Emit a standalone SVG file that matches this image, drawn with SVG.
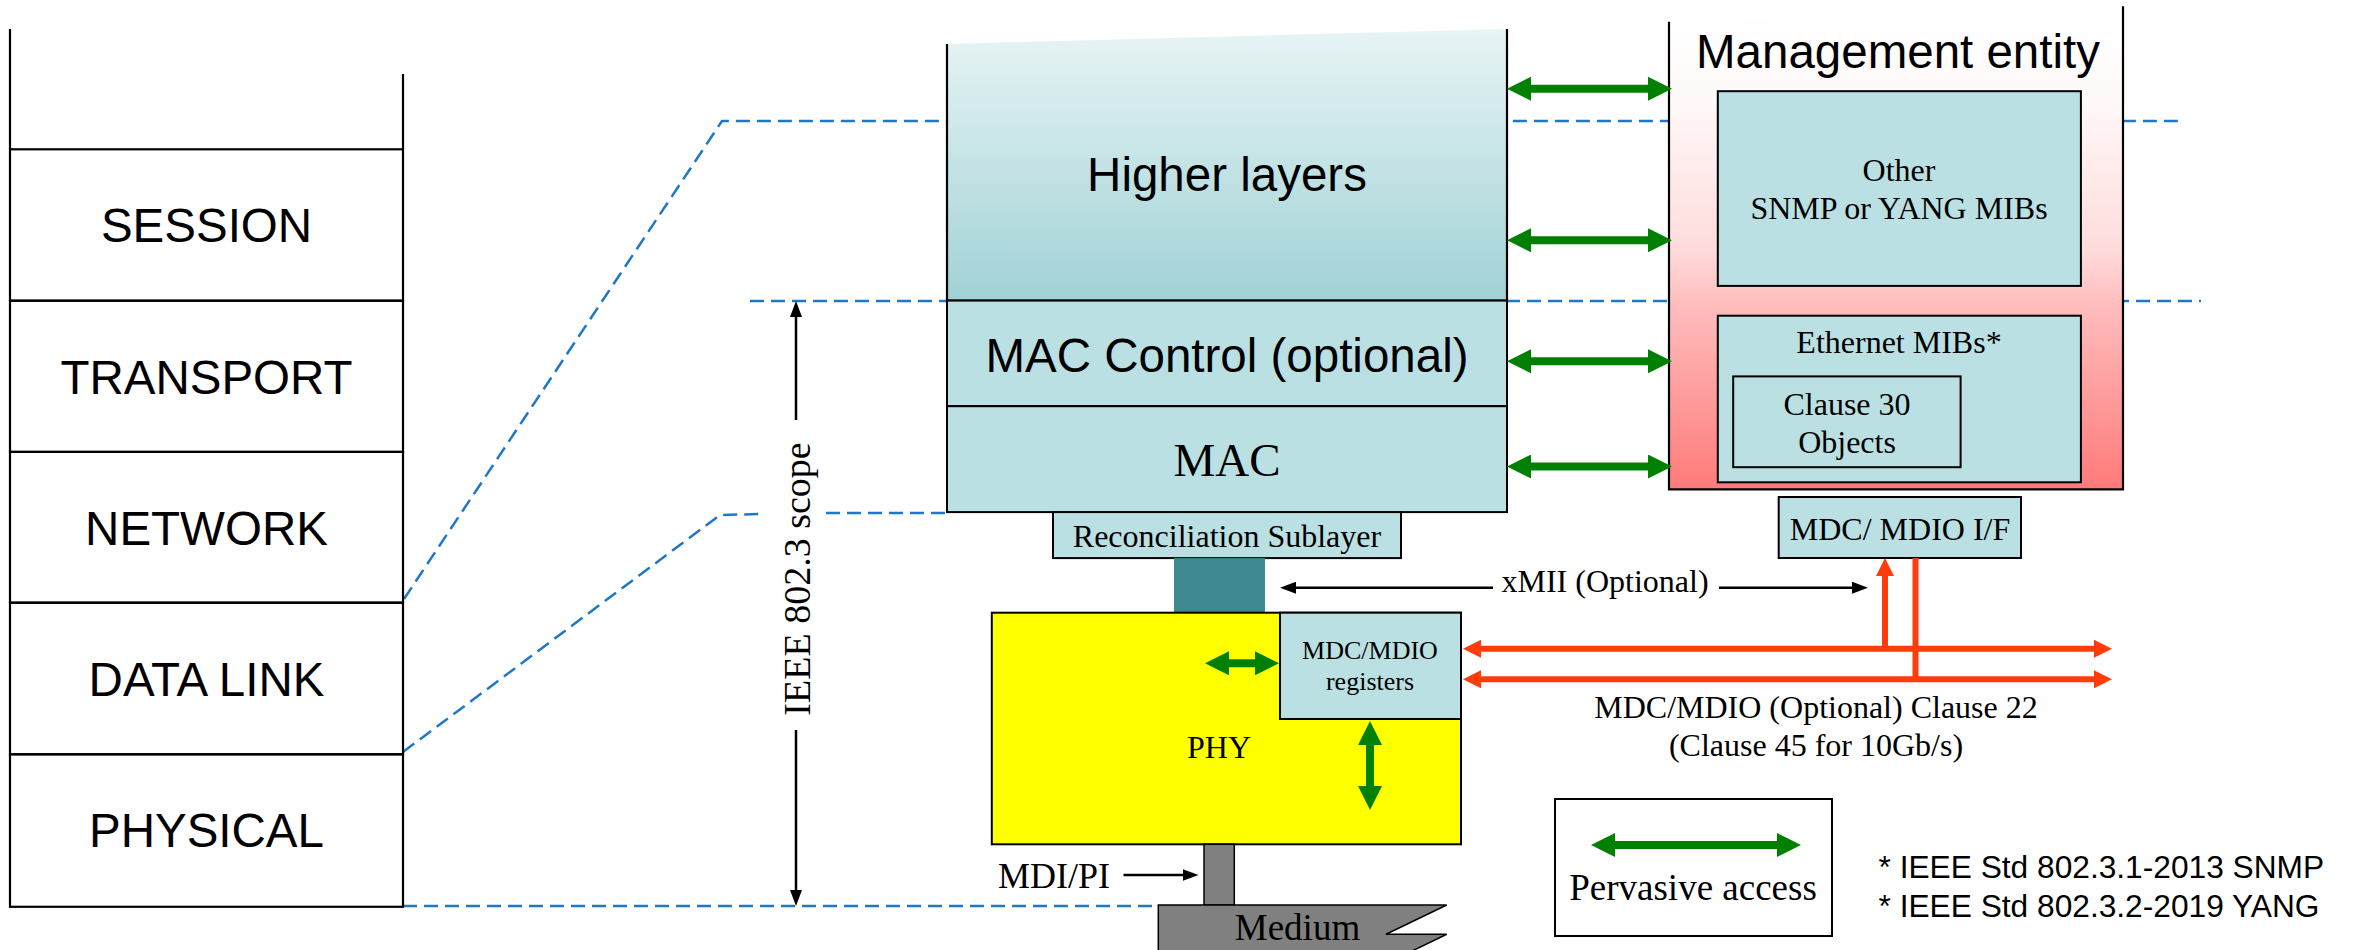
<svg xmlns="http://www.w3.org/2000/svg" width="2354" height="950" viewBox="0 0 2354 950">
<style>
.sans{font-family:"Liberation Sans",Arial,sans-serif;fill:#000}
.serif{font-family:"Liberation Serif","Times New Roman",serif;fill:#000}
.big{font-size:47.5px}
.s32{font-size:32px}
.box{fill:#bae0e3;stroke:#000;stroke-width:2}
.edge{fill:none;stroke:#000;stroke-width:2.2}
.dash{fill:none;stroke:#1f77c9;stroke-width:2.5;stroke-dasharray:14 7}
.ga{fill:none;stroke:#008000;stroke-width:8;marker-start:url(#mG);marker-end:url(#mG)}
.ra{fill:none;stroke:#ff3c0a;stroke-width:6}
.ka{fill:none;stroke:#000;stroke-width:2.5}
</style>
<defs>
<linearGradient id="gHL" gradientUnits="userSpaceOnUse" x1="0" y1="29" x2="0" y2="300">
<stop offset="0" stop-color="#e8f4f5"/><stop offset="1" stop-color="#a1d2d6"/>
</linearGradient>
<linearGradient id="gME" gradientUnits="userSpaceOnUse" x1="0" y1="6" x2="0" y2="489">
<stop offset="0" stop-color="#ffffff"/><stop offset="0.18" stop-color="#fffafa"/><stop offset="0.5" stop-color="#ffdcdc"/><stop offset="0.62" stop-color="#ffbdbd"/><stop offset="1" stop-color="#ff7a7a"/>
</linearGradient>
<marker id="mG" markerUnits="userSpaceOnUse" viewBox="0 0 24 24" markerWidth="24" markerHeight="24" refX="4" refY="12" orient="auto-start-reverse"><path d="M0,0 L24,12 L0,24 Z" fill="#008000"/></marker>
<marker id="mR" markerUnits="userSpaceOnUse" viewBox="0 0 18 18" markerWidth="18" markerHeight="18" refX="3" refY="9" orient="auto-start-reverse"><path d="M0,0 L18,9 L0,18 Z" fill="#ff3c0a"/></marker>
<marker id="mK" markerUnits="userSpaceOnUse" viewBox="0 0 16 12" markerWidth="16" markerHeight="12" refX="2" refY="6" orient="auto-start-reverse"><path d="M0,0 L16,6 L0,12 Z" fill="#000"/></marker>
</defs>
<rect width="2354" height="950" fill="#fff"/>

<g id="scope-lines">
<path class="dash" d="M404,599 L722,121 L2182,121"/>
<path class="dash" d="M750,301 L2201,301"/>
<path class="dash" d="M403,752 L720,515 L760,514"/>
<path class="dash" d="M826,513 L947,513"/>
<path class="dash" d="M403,906 L1160,906"/>
</g>

<g id="osi-stack">
<line class="edge" x1="10" y1="29" x2="10" y2="149.3"/>
<line class="edge" x1="403" y1="74" x2="403" y2="149.3"/>
<g id="layer-session"><rect class="edge" x="10" y="149.3" width="393" height="151.4"/><text class="sans big" x="206.5" y="242" text-anchor="middle">SESSION</text></g>
<g id="layer-transport"><rect class="edge" x="10" y="300.7" width="393" height="151.2"/><text class="sans big" x="206.5" y="393.5" text-anchor="middle">TRANSPORT</text></g>
<g id="layer-network"><rect class="edge" x="10" y="451.9" width="393" height="150.8"/><text class="sans big" x="206.5" y="544.5" text-anchor="middle">NETWORK</text></g>
<g id="layer-datalink"><rect class="edge" x="10" y="602.7" width="393" height="151.6"/><text class="sans big" x="206.5" y="695.5" text-anchor="middle">DATA LINK</text></g>
<g id="layer-physical"><rect class="edge" x="10" y="754.3" width="393" height="152.5"/><text class="sans big" x="206.5" y="847" text-anchor="middle">PHYSICAL</text></g>
</g>

<g id="higher-layers">
<polygon points="947,44 1507,29 1507,300.6 947,300.6" fill="url(#gHL)"/>
<path class="edge" d="M947,44 L947,300.6 L1507,300.6 L1507,29"/>
<text class="sans big" x="1227" y="191" text-anchor="middle">Higher layers</text>
</g>
<g id="mac-control">
<rect class="box" x="947" y="300.6" width="560" height="105.6"/>
<text class="sans big" x="1227" y="372" text-anchor="middle">MAC Control (optional)</text>
</g>
<g id="mac">
<rect class="box" x="947" y="406.2" width="560" height="105.9"/>
<text class="serif" font-size="47" x="1227" y="476" text-anchor="middle">MAC</text>
</g>
<g id="reconciliation">
<rect class="box" x="1053" y="512.1" width="348" height="46"/>
<text class="serif s32" x="1227" y="546.5" text-anchor="middle">Reconciliation Sublayer</text>
</g>
<g id="xmii-link">
<rect x="1174" y="558.1" width="91" height="54.6" fill="#3f8a92"/>
</g>
<g id="phy">
<rect x="991.8" y="612.7" width="469.2" height="231.6" fill="#ffff00" stroke="#000" stroke-width="2"/>
<text class="serif s32" x="1219" y="758" text-anchor="middle">PHY</text>
</g>
<g id="mdio-registers">
<rect class="box" x="1280" y="612.7" width="181" height="106.3"/>
<text class="serif" font-size="26" x="1370" y="659" text-anchor="middle">MDC/MDIO</text>
<text class="serif" font-size="26" x="1370" y="690" text-anchor="middle">registers</text>
</g>
<g id="mdi-link">
<rect x="1204" y="844.3" width="30.3" height="60.7" fill="#808080" stroke="#000" stroke-width="1.5"/>
</g>
<g id="medium">
<path d="M1158.3,905 L1446.7,905 L1386,934.3 L1446.7,934.3 L1386,963.6 L1158.3,963.6 Z" fill="#808080" stroke="#000" stroke-width="1.5"/>
<text class="serif" font-size="37" x="1297.5" y="940" text-anchor="middle">Medium</text>
</g>

<g id="management-entity">
<polygon points="1669,21.7 2123,6.3 2123,489.3 1669,489.3" fill="url(#gME)"/>
<path class="edge" d="M1669,21.7 L1669,489.3 L2123,489.3 L2123,6.3" stroke-width="2.5"/>
<text class="sans big" x="1898" y="68" text-anchor="middle">Management entity</text>
</g>
<g id="other-mibs">
<rect class="box" x="1717.8" y="91.2" width="363.1" height="194.7"/>
<text class="serif s32" x="1899" y="180.6" text-anchor="middle">Other</text>
<text class="serif s32" x="1899" y="219" text-anchor="middle">SNMP or YANG MIBs</text>
</g>
<g id="ethernet-mibs">
<rect class="box" x="1717.8" y="315.7" width="363.1" height="166.6"/>
<text class="serif s32" x="1899" y="352.5" text-anchor="middle">Ethernet MIBs*</text>
</g>
<g id="clause30">
<rect class="box" x="1733.2" y="376.4" width="227.4" height="90.8"/>
<text class="serif s32" x="1847" y="415" text-anchor="middle">Clause 30</text>
<text class="serif s32" x="1847" y="452.5" text-anchor="middle">Objects</text>
</g>
<g id="mdio-if">
<rect class="box" x="1778.7" y="497" width="242.3" height="61"/>
<text class="serif s32" x="1900" y="540" text-anchor="middle">MDC/ MDIO I/F</text>
</g>

<g id="connectors">
<line class="ga" x1="1527" y1="88.7" x2="1652" y2="88.7"/>
<line class="ga" x1="1527" y1="240.3" x2="1652" y2="240.3"/>
<line class="ga" x1="1527" y1="361.3" x2="1652" y2="361.3"/>
<line class="ga" x1="1527" y1="466.5" x2="1652" y2="466.5"/>
<line class="ga" x1="1225" y1="663.3" x2="1259" y2="663.3"/>
<line class="ga" x1="1370" y1="741" x2="1370" y2="790"/>
<line class="ra" x1="1478" y1="648.7" x2="2097" y2="648.7" marker-start="url(#mR)" marker-end="url(#mR)"/>
<line class="ra" x1="1478" y1="679.3" x2="2097" y2="679.3" marker-start="url(#mR)" marker-end="url(#mR)"/>
<line class="ra" x1="1885" y1="651" x2="1885" y2="573" marker-end="url(#mR)"/>
<line class="ra" x1="1915.5" y1="558" x2="1915.5" y2="680"/>
<line class="ka" x1="1294" y1="587.7" x2="1493" y2="587.7" marker-start="url(#mK)"/>
<line class="ka" x1="1719" y1="587.7" x2="1854" y2="587.7" marker-end="url(#mK)"/>
<line class="ka" x1="1123.5" y1="875" x2="1184.5" y2="875" marker-end="url(#mK)"/>
<line class="ka" x1="796" y1="420" x2="796" y2="315" marker-end="url(#mK)"/>
<line class="ka" x1="796" y1="730" x2="796" y2="892" marker-end="url(#mK)"/>
</g>

<g id="labels">
<text class="serif s32" x="1605" y="591.7" text-anchor="middle">xMII (Optional)</text>
<text class="serif s32" x="1816" y="718.3" text-anchor="middle">MDC/MDIO (Optional) Clause 22</text>
<text class="serif s32" x="1816" y="756" text-anchor="middle">(Clause 45 for 10Gb/s)</text>
<text class="serif" font-size="36" x="1110" y="888" text-anchor="end">MDI/PI</text>
<text class="serif" font-size="38" transform="translate(810,579) rotate(-90)" text-anchor="middle">IEEE 802.3 scope</text>
</g>

<g id="legend">
<rect x="1555" y="799" width="277" height="137" fill="#fff" stroke="#000" stroke-width="2"/>
<line class="ga" x1="1611" y1="845" x2="1781" y2="845"/>
<text class="serif" font-size="37" x="1693" y="900" text-anchor="middle">Pervasive access</text>
</g>
<g id="footnotes">
<text class="sans" font-size="31.7" x="1878.5" y="878">* IEEE Std 802.3.1-2013 SNMP</text>
<text class="sans" font-size="31.7" x="1878.5" y="917">* IEEE Std 802.3.2-2019 YANG</text>
</g>
</svg>
